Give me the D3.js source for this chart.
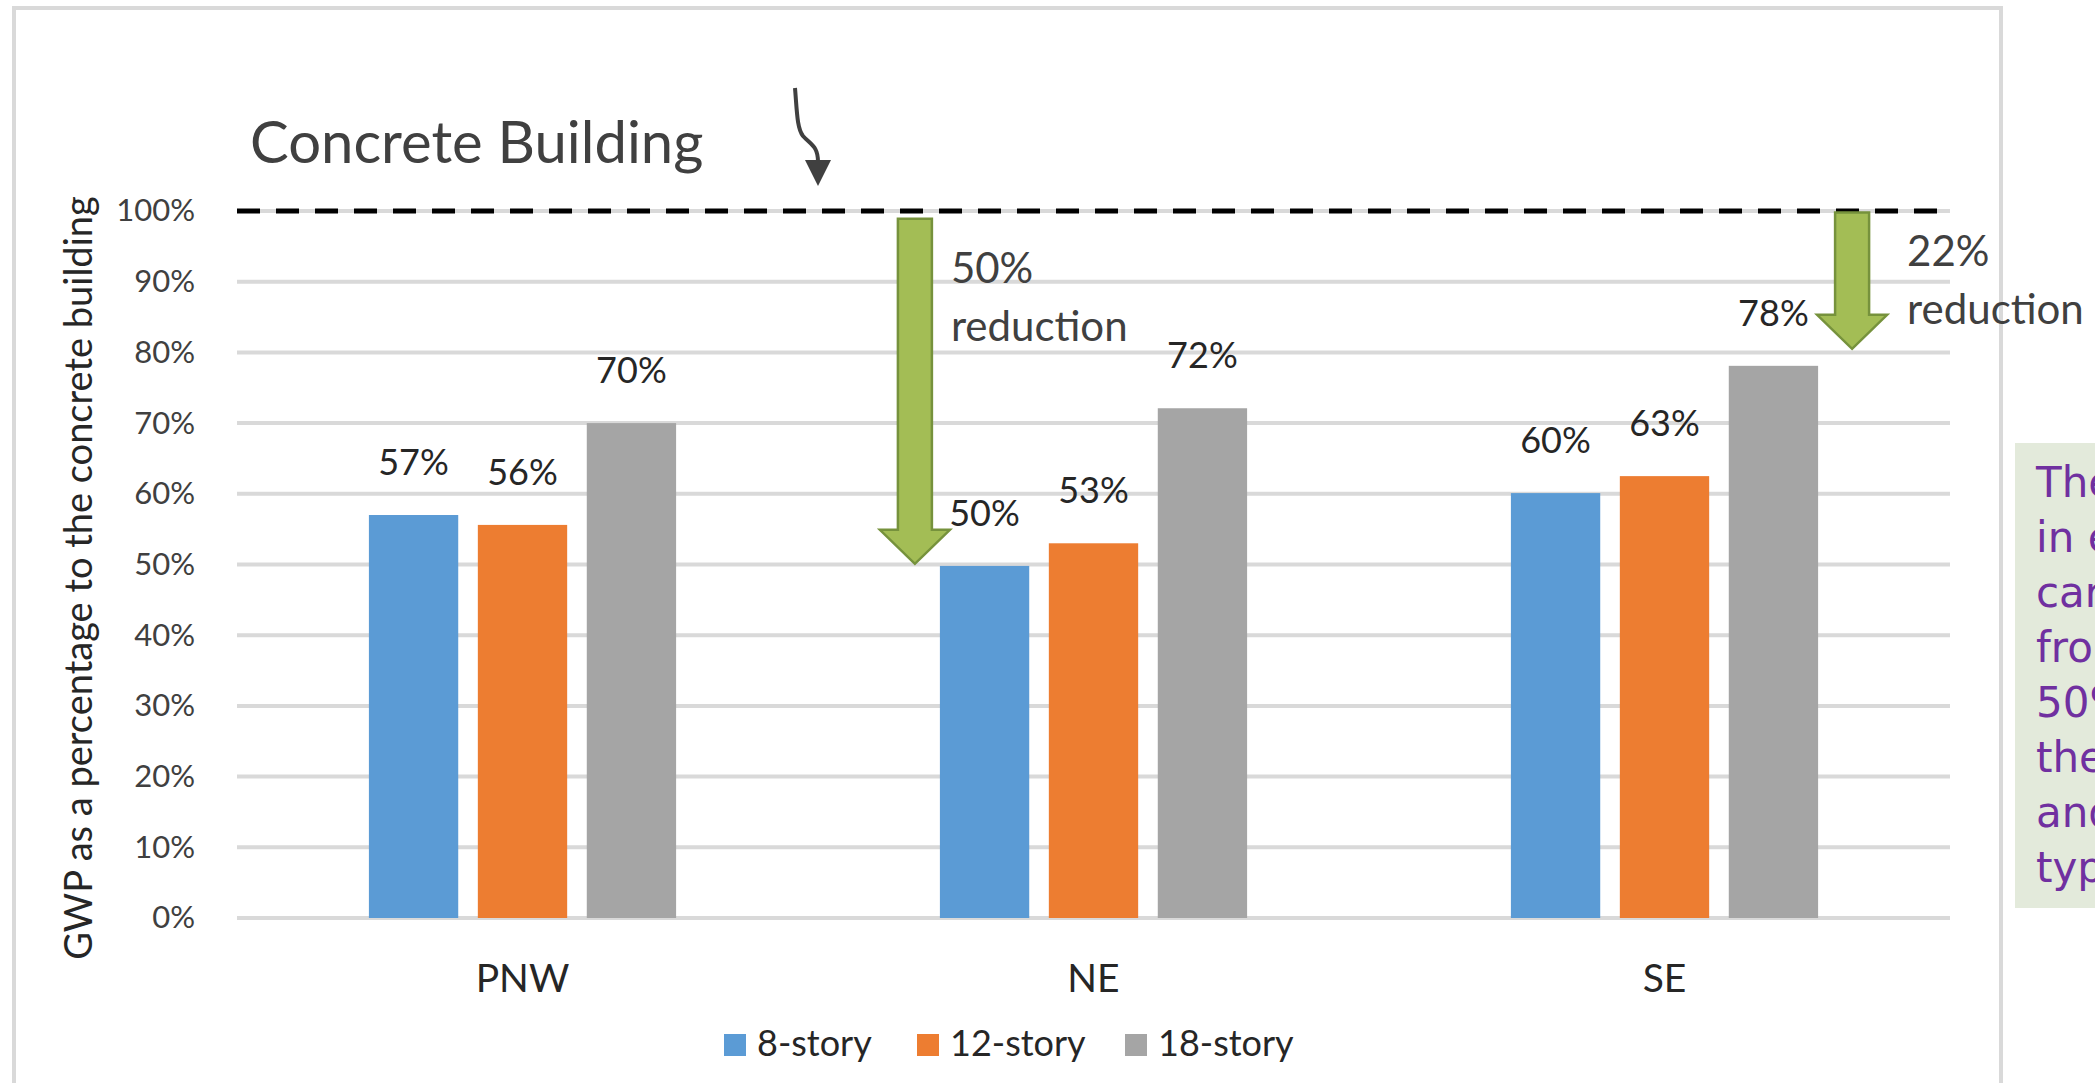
<!DOCTYPE html>
<html>
<head>
<meta charset="utf-8">
<script src="https://cdnjs.cloudflare.com/ajax/libs/d3/7.8.5/d3.min.js"></script>
<style>
  body { margin: 0; background: #fff; overflow: hidden; }
  svg { font-family: Lato, "Open Sans", sans-serif; }
</style>
</head>
<body>
<div id="chart"></div>
<script>
// data
var categories = ["PNW", "NE", "SE"];
var seriesNames = ["8-story", "12-story", "18-story"];
var story8 = [57, 49.8, 60.1];
var story12 = [55.6, 53.0, 62.5];
var story18 = [70, 72.1, 78.1];
var labels8 = ["57%", "50%", "60%"];
var labels12 = ["56%", "53%", "63%"];
var labels18 = ["70%", "72%", "78%"];
var yTicks = [0, 10, 20, 30, 40, 50, 60, 70, 80, 90, 100];
var reductions = [
  {cat: "NE", from: 98.9, to: 50.1, pct: "50%"},
  {cat: "SE", from: 99.8, to: 80.5, pct: "22%"}
];
var noteLines = ["The reduction", "in embodied", "carbon ranges", "from 22% to",
                 "50% depending on", "the region", "and building", "type."];

var colors = ["#5b9bd5", "#ed7d31", "#a5a5a5"];
var values = [story8, story12, story18];
var labels = [labels8, labels12, labels18];

var W = 2095, H = 1083;
var plot = {left: 237, right: 1950, top: 211, bottom: 918};

var svg = d3.select("#chart").append("svg")
    .attr("width", W)
    .attr("height", H);

// outer frame
svg.append("rect")
    .attr("x", 14).attr("y", 8)
    .attr("width", 1987).attr("height", 1200)
    .attr("fill", "none")
    .attr("stroke", "#d9d9d9")
    .attr("stroke-width", 4);

var y = d3.scaleLinear().domain([0, 100]).range([plot.bottom, plot.top]);
var x0 = d3.scaleBand().domain(categories)
    .range([plot.left, plot.right])
    .paddingInner(0.462).paddingOuter(0.231);
var x1 = d3.scaleBand().domain(seriesNames)
    .range([0, x0.bandwidth()])
    .paddingInner(0.18).paddingOuter(0);

// gridlines
svg.selectAll(".grid").data(yTicks).enter()
    .append("line")
    .attr("class", "grid")
    .attr("x1", plot.left).attr("x2", plot.right)
    .attr("y1", function(d){ return y(d); })
    .attr("y2", function(d){ return y(d); })
    .attr("stroke", "#d9d9d9")
    .attr("stroke-width", 4);

// y axis labels
var yAxis = d3.axisLeft(y).tickValues(yTicks)
    .tickFormat(function(d){ return d + "%"; })
    .tickSize(0).tickPadding(42);
var yg = svg.append("g")
    .attr("transform", "translate(" + plot.left + ",0)")
    .call(yAxis);
yg.select(".domain").remove();
yg.selectAll("text")
    .style("font-family", "Lato, sans-serif")
    .style("font-size", "31px")
    .attr("fill", "#404040");

// axis title
svg.append("text")
    .attr("transform", "translate(92,578) rotate(-90)")
    .attr("text-anchor", "middle")
    .style("font-size", "38px")
    .attr("fill", "#262626")
    .text("GWP as a percentage to the concrete building");

// concrete reference line
svg.append("line")
    .attr("x1", plot.left).attr("x2", plot.right)
    .attr("y1", y(100)).attr("y2", y(100))
    .attr("stroke", "#000")
    .attr("stroke-width", 5)
    .attr("stroke-dasharray", "23,16");

// bars
var groups = svg.selectAll(".cat").data(categories).enter()
    .append("g")
    .attr("class", "cat")
    .attr("transform", function(d){ return "translate(" + x0(d) + ",0)"; });

seriesNames.forEach(function(s, si){
    groups.append("rect")
        .attr("x", x1(s))
        .attr("width", x1.bandwidth())
        .attr("y", function(d, i){ return y(values[si][i]); })
        .attr("height", function(d, i){ return y(0) - y(values[si][i]); })
        .attr("fill", colors[si]);
    groups.append("text")
        .attr("x", x1(s) + x1.bandwidth() / 2)
        .attr("y", function(d, i){ return y(values[si][i]) - 40; })
        .attr("text-anchor", "middle")
        .style("font-size", "36px")
        .attr("fill", "#262626")
        .text(function(d, i){ return labels[si][i]; });
});

// category labels
var xAxis = d3.axisBottom(x0).tickSize(0).tickPadding(46);
var xg = svg.append("g")
    .attr("transform", "translate(0," + plot.bottom + ")")
    .call(xAxis);
xg.select(".domain").remove();
xg.selectAll("text")
    .style("font-family", "Lato, sans-serif")
    .style("font-size", "39px")
    .attr("fill", "#262626");

// legend
var legendX = [724, 917, 1125];
var legend = svg.selectAll(".leg").data(seriesNames).enter()
    .append("g")
    .attr("class", "leg")
    .attr("transform", function(d, i){ return "translate(" + legendX[i] + ",1034)"; });
legend.append("rect")
    .attr("width", 22).attr("height", 22)
    .attr("fill", function(d, i){ return colors[i]; });
legend.append("text")
    .attr("x", 33).attr("y", 22)
    .style("font-size", "36px")
    .attr("fill", "#262626")
    .text(function(d){ return d; });

// title annotation
svg.append("text")
    .attr("x", 250).attr("y", 163)
    .style("font-size", "58px")
    .attr("fill", "#404040")
    .text("Concrete Building");

svg.append("path")
    .attr("d", "M795,88 C797,112 797,128 803,136 C811,145 818,146 818,162")
    .attr("fill", "none")
    .attr("stroke", "#404040")
    .attr("stroke-width", 4);
svg.append("path")
    .attr("d", "M805,160 L831,160 L818,186 Z")
    .attr("fill", "#404040");

// reduction arrows
var shaftW = 34, headW = 70, headH = 34;
var arrowX = {NE: function(){ return x0("NE") - 25; },
              SE: function(){ return x0("SE") + x0.bandwidth() + 34; }};
reductions.forEach(function(r){
    var cx = arrowX[r.cat]();
    var top = y(r.from), tip = y(r.to), hb = tip - headH;
    var pts = [[cx - shaftW/2, top], [cx + shaftW/2, top], [cx + shaftW/2, hb],
               [cx + headW/2, hb], [cx, tip], [cx - headW/2, hb], [cx - shaftW/2, hb]];
    svg.append("path")
        .attr("d", d3.line()(pts) + "Z")
        .attr("fill", "#a3bd55")
        .attr("stroke", "#76923c")
        .attr("stroke-width", 2.5);
    var tx = cx + shaftW/2 + (r.cat === "NE" ? 19 : 38);
    var ty = r.cat === "NE" ? 283 : 266;
    svg.append("text")
        .attr("x", tx).attr("y", ty)
        .style("font-size", "42px")
        .attr("fill", "#404040")
        .text(r.pct);
    svg.append("text")
        .attr("x", tx).attr("y", ty + 58)
        .style("font-size", "42px")
        .attr("fill", "#404040")
        .text("reduction");
});

// side note box (cut off at the page edge, as in the original)
svg.append("rect")
    .attr("x", 2015).attr("y", 443)
    .attr("width", 200).attr("height", 465)
    .attr("fill", "#e3eadb");
svg.selectAll(".note").data(noteLines).enter()
    .append("text")
    .attr("class", "note")
    .attr("x", 2036)
    .attr("y", function(d, i){ return 497 + i * 55; })
    .style("font-family", "'DejaVu Sans', sans-serif")
    .style("font-size", "42px")
    .attr("fill", "#7030a0")
    .text(function(d){ return d; });
</script>
</body>
</html>
